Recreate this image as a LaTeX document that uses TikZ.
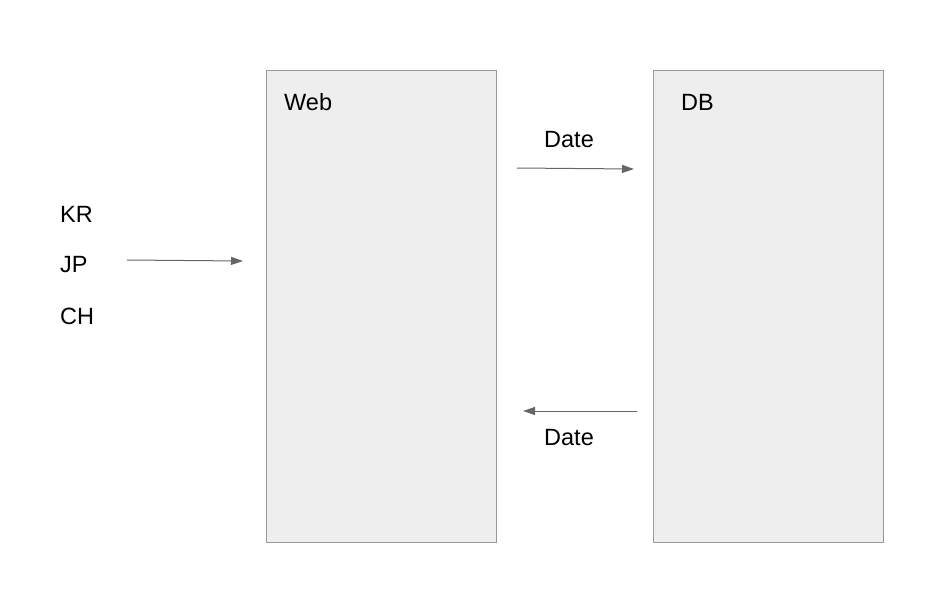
\documentclass[tikz,border=0pt]{standalone}
\usepackage{fontspec}
\setmainfont{Liberation Sans}
\usetikzlibrary{positioning,arrows.meta}
\definecolor{boxfill}{HTML}{EEEEEE}
\definecolor{boxline}{HTML}{999999}
\definecolor{arrowgray}{HTML}{666666}

\begin{document}
\begin{tikzpicture}[x=1pt,y=-1pt,
  panel/.style={draw=boxline, fill=boxfill, line width=1pt, minimum width=230pt, minimum height=472pt, inner sep=0pt},
  lbl/.style={font=\fontsize{23.5}{28}\selectfont, inner sep=0pt},
  title/.style={font=\fontsize{23.5}{28}\selectfont, inner sep=0pt, anchor=west},
  flow/.style={draw=arrowgray, line width=1pt, -{Triangle[length=12pt,width=8pt]}}]
\useasboundingbox (0,0) rectangle (933,598);
% boxes
\node[panel] (web) at (381,306) {};
\node[panel] (db) at (768,306) {};
\node[title] (webname) at (284,102) {Web};
\node[title] (dbname) at (681,102) {DB};
% countries
\node[lbl, anchor=west] (kr) at (60,214) {KR};
\node[lbl, anchor=west] (jp) at (60,265) {JP};
\node[lbl, anchor=west] (ch) at (60,316) {CH};
% dates
\node[lbl] (datein) at (569,140) {Date};
\node[lbl] (dateout) at (569,438) {Date};
\coordinate (jpout) at (127,260);
\coordinate (webin) at (243,261);
\coordinate (webout) at (517,168);
\coordinate (dbin) at (634,169);
\coordinate (dbout) at (637,411);
\coordinate (webback) at (523,411);
\draw[flow] (jpout) -- (webin);
\draw[flow] (webout) -- (dbin);
\draw[flow] (dbout) -- (webback);
\end{tikzpicture}
\end{document}
